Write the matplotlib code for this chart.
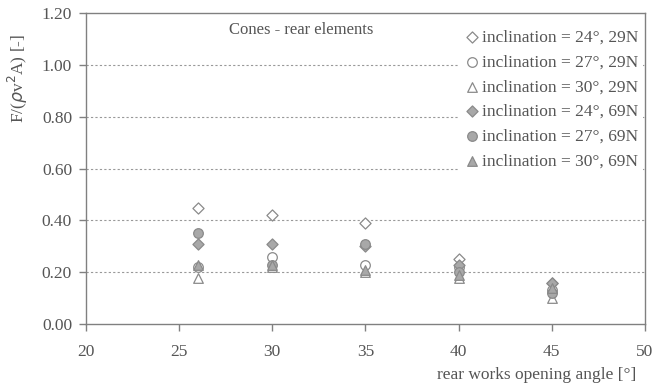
import matplotlib
matplotlib.use("Agg")
import matplotlib.pyplot as plt

plt.rcParams['font.family'] = ['Liberation Serif', 'DejaVu Serif']

angles = [26, 30, 35, 40, 45]

# F/(rho v^2 A) per inclination and load
incl24_29 = [0.45, 0.42, 0.39, 0.25, 0.16]
incl27_29 = [0.22, 0.26, 0.23, 0.22, 0.13]
incl30_29 = [0.18, 0.22, 0.20, 0.18, 0.10]
incl24_69 = [0.31, 0.31, 0.30, 0.23, 0.16]
incl27_69 = [0.35, 0.23, 0.31, 0.20, 0.12]
incl30_69 = [0.23, 0.23, 0.21, 0.19, 0.14]

labels = ["inclination = 24°, 29N", "inclination = 27°, 29N", "inclination = 30°, 29N",
          "inclination = 24°, 69N", "inclination = 27°, 69N", "inclination = 30°, 69N"]
series = [incl24_29, incl27_29, incl30_29, incl24_69, incl27_69, incl30_69]
markers = ['D', 'o', '^', 'D', 'o', '^']
filled = [False, False, False, True, True, True]

txt = '#555555'
edge = '#8a8a8a'

fig = plt.figure(figsize=(6.56, 3.85), dpi=100)
ax = fig.add_axes([0.131, 0.158, 0.852, 0.808])

for ys, lab, m, f in zip(series, labels, markers, filled):
    size = 32 if m == 'D' else 48
    ax.scatter(angles, ys, marker=m, s=size, label=lab,
               facecolors='#a8a8a8' if f else 'white',
               edgecolors=edge, linewidths=0.9, zorder=3)

ax.set_xlim(20, 50)
ax.set_ylim(0, 1.2)
ax.set_xticks(range(20, 51, 5))
ax.set_yticks([0.0, 0.2, 0.4, 0.6, 0.8, 1.0, 1.2])
ax.set_yticklabels(["%.2f" % v for v in ax.get_yticks()])

for v in [0.2, 0.4, 0.6, 0.8, 1.0]:
    ax.axhline(v, color='#999999', lw=0.8, ls=(0, (2, 2)), zorder=1)

for s in ax.spines.values():
    s.set_color('#808080')
    s.set_linewidth(1.0)
ax.tick_params(colors='#808080', labelcolor=txt, labelsize=12.5, length=5, width=1.0)
ax.tick_params(axis='y', pad=5)
ax.tick_params(axis='x', pad=9)

ax.set_ylabel(r"F/($\rho$v$^2$A) [-]", color=txt, fontsize=12.5)
ax.yaxis.set_label_coords(-0.1, 0.79)
ax.set_xlabel("rear works opening angle [°]", color=txt, fontsize=12.5)
ax.xaxis.set_label_coords(0.985, -0.165)
ax.xaxis.label.set_horizontalalignment('right')
ax.xaxis.label.set_verticalalignment('center')

ax.text(0.385, 0.945, "Cones - rear elements", transform=ax.transAxes,
        ha='center', va='center', color=txt, fontsize=12)

leg = ax.legend(loc='upper right', bbox_to_anchor=(1.0, 0.97), frameon=True,
                fontsize=12.5, labelspacing=0.5, handletextpad=0.05,
                handlelength=1.0, borderaxespad=0.1, borderpad=0.3)
leg.get_frame().set_edgecolor('none')
leg.get_frame().set_facecolor('white')
leg.get_frame().set_alpha(1.0)
for t in leg.get_texts():
    t.set_color(txt)

fig.savefig('out.png', dpi=100)
